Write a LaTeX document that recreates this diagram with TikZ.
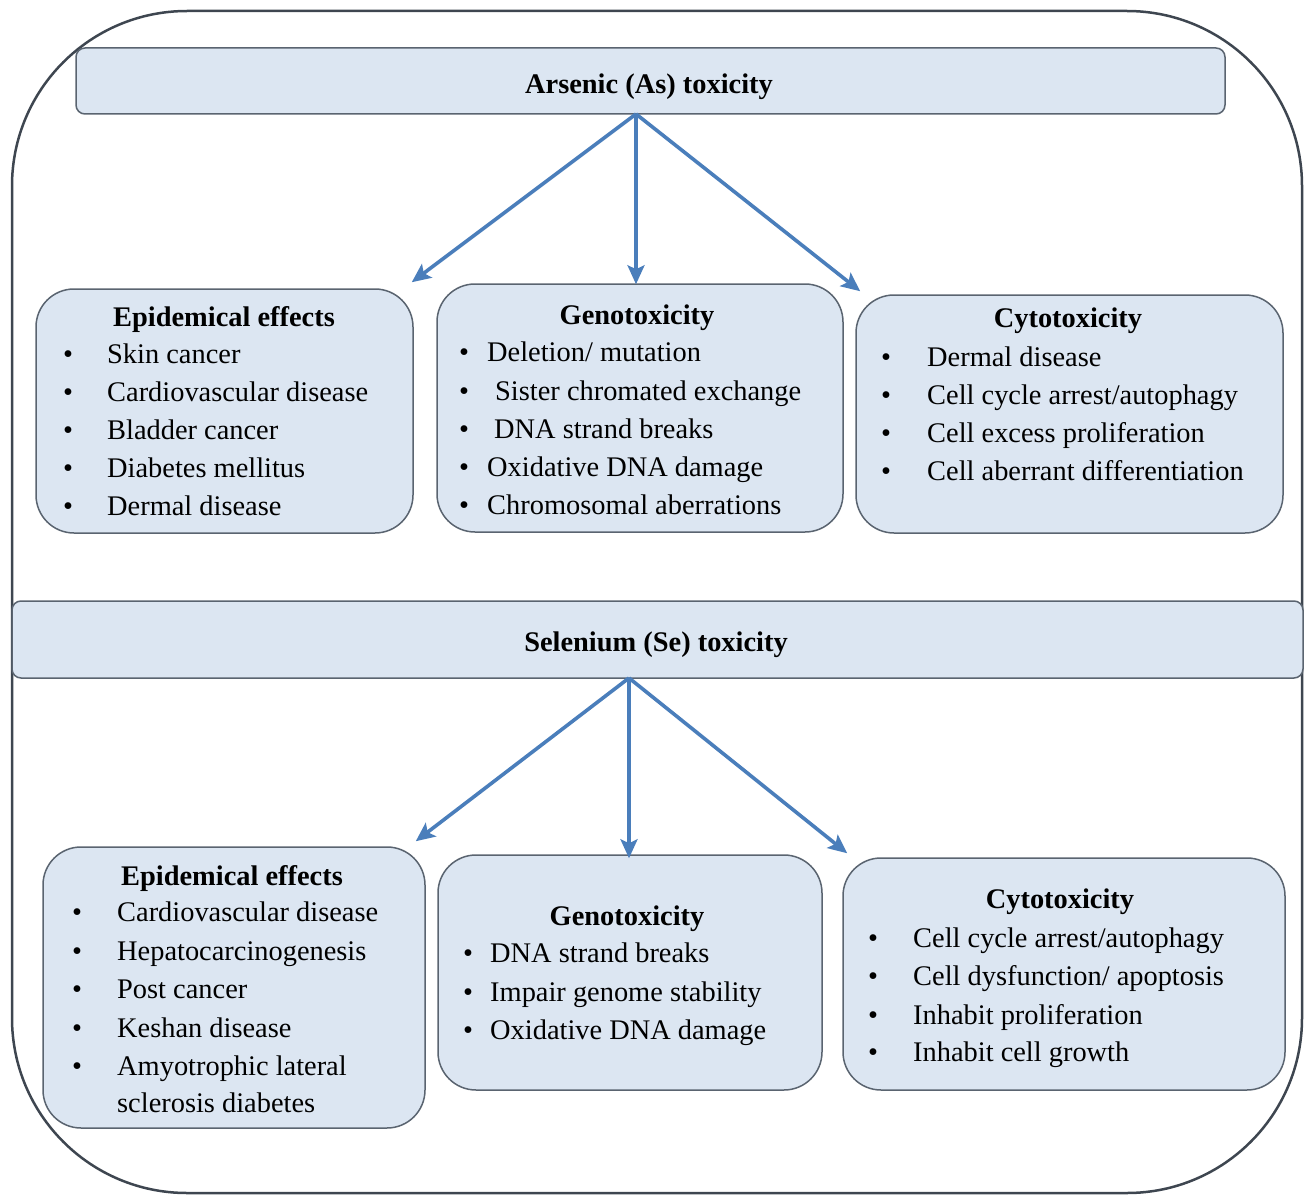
\documentclass[tikz,border=0pt]{standalone}
\usepackage{fontspec}
\setmainfont{Liberation Serif}
\usetikzlibrary{arrows.meta}
\definecolor{boxfill}{HTML}{DCE6F2}
\definecolor{boxline}{HTML}{5A6470}
\definecolor{outline}{HTML}{3E4650}
\definecolor{arrowblue}{HTML}{4A7EBB}
\newcommand\itm[5]{\node[bul] (#1b) at (#2,#4) {\textbullet}; \node[itm] (#1) at (#3,#4) {#5};}
\tikzset{
  txt/.style={inner sep=0pt, text height=15pt, text depth=0pt, font=\fontsize{28.4}{34}\selectfont},
  bul/.style={txt},
  itm/.style={txt, anchor=west},
  ttl/.style={txt, font=\fontsize{28.4}{34}\selectfont\bfseries},
  box/.style={draw=boxline, fill=boxfill, line width=1.5pt, rounded corners=38pt, inner sep=0pt},
  hdr/.style={draw=boxline, fill=boxfill, line width=1.5pt, rounded corners=9pt, inner sep=0pt},
  conn/.style={draw=arrowblue, line width=3.6pt, -{Stealth[length=19pt,width=17pt,inset=4pt]}},
}
\begin{document}
\begin{tikzpicture}[x=1pt,y=-1pt]
\useasboundingbox (0,0) rectangle (1307,1196);
\draw[outline, line width=2.5pt, rounded corners=175pt] (12,11) rectangle (1302,1193);
% headers
\node[hdr, minimum width=1149pt, minimum height=66pt] (ars) at (650.5,81) {};
\node[ttl] (arst) at (649,86) {Arsenic (As) toxicity};
\node[hdr, minimum width=1291pt, minimum height=77pt] (sel) at (657.5,639.5) {};
\node[ttl] (selt) at (656,644) {Selenium (Se) toxicity};
% top boxes
\node[box, minimum width=377pt, minimum height=244pt] (epi1) at (224.5,411) {};
\node[box, minimum width=406pt, minimum height=248pt] (geno1) at (640,408) {};
\node[box, minimum width=427pt, minimum height=238pt] (cyto1) at (1069.5,414) {};
% bottom boxes
\node[box, minimum width=382pt, minimum height=281pt] (epi2) at (234,987.5) {};
\node[box, minimum width=384pt, minimum height=235pt] (geno2) at (630,972.5) {};
\node[box, minimum width=442pt, minimum height=232pt] (cyto2) at (1064,974) {};
% arrows
\coordinate (asrc) at (636,114);
\coordinate (ssrc) at (629,678);
\draw[conn] (asrc) -- ([xshift=-2pt,yshift=6pt]epi1.north east);
\draw[conn] (asrc) -- ([yshift=-1pt]asrc |- geno1.north);
\draw[conn] (asrc) -- ([xshift=5pt,yshift=3pt]cyto1.north west);
\draw[conn] (ssrc) -- ([xshift=-10pt,yshift=5pt]epi2.north east);
\draw[conn] (ssrc) -- ([yshift=-4pt]ssrc |- geno2.north);
\draw[conn] (ssrc) -- ([xshift=5pt,yshift=4pt]cyto2.north west);
% Epidemical effects (As)
\node[ttl] (e1t) at (224,319) {Epidemical effects};
\itm{e1a}{68}{107}{356}{Skin cancer}
\itm{e1b}{68}{107}{394}{Cardiovascular disease}
\itm{e1c}{68}{107}{432}{Bladder cancer}
\itm{e1d}{68}{107}{470}{Diabetes mellitus}
\itm{e1e}{68}{107}{508}{Dermal disease}
% Genotoxicity (As)
\node[ttl] (g1t) at (637,317) {Genotoxicity};
\itm{g1a}{464}{487}{354}{Deletion/ mutation}
\itm{g1b}{464}{495}{393}{Sister chromated exchange}
\itm{g1c}{464}{494}{431}{DNA strand breaks}
\itm{g1d}{464}{487}{469}{Oxidative DNA damage}
\itm{g1e}{464}{487}{507}{Chromosomal aberrations}
% Cytotoxicity (As)
\node[ttl] (c1t) at (1068,320) {Cytotoxicity};
\itm{c1a}{886}{927}{359}{Dermal disease}
\itm{c1b}{886}{927}{397}{Cell cycle arrest/autophagy}
\itm{c1c}{886}{927}{435}{Cell excess proliferation}
\itm{c1d}{886}{927}{473}{Cell aberrant differentiation}
% Epidemical effects (Se)
\node[ttl] (e2t) at (232,878) {Epidemical effects};
\itm{e2a}{77}{117}{914}{Cardiovascular disease}
\itm{e2b}{77}{117}{953}{Hepatocarcinogenesis}
\itm{e2c}{77}{117}{991}{Post cancer}
\itm{e2d}{77}{117}{1030}{Keshan disease}
\itm{e2e}{77}{117}{1068}{Amyotrophic lateral}
\node[itm] (e2f) at (117,1105) {sclerosis diabetes};
% Genotoxicity (Se)
\node[ttl] (g2t) at (627,918) {Genotoxicity};
\itm{g2a}{468}{490}{955}{DNA strand breaks}
\itm{g2b}{468}{490}{994}{Impair genome stability}
\itm{g2c}{468}{490}{1032}{Oxidative DNA damage}
% Cytotoxicity (Se)
\node[ttl] (c2t) at (1060,901) {Cytotoxicity};
\itm{c2a}{873}{913}{940}{Cell cycle arrest/autophagy}
\itm{c2b}{873}{913}{978}{Cell dysfunction/ apoptosis}
\itm{c2c}{873}{913}{1017}{Inhabit proliferation}
\itm{c2d}{873}{913}{1054}{Inhabit cell growth}
\end{tikzpicture}
\end{document}
